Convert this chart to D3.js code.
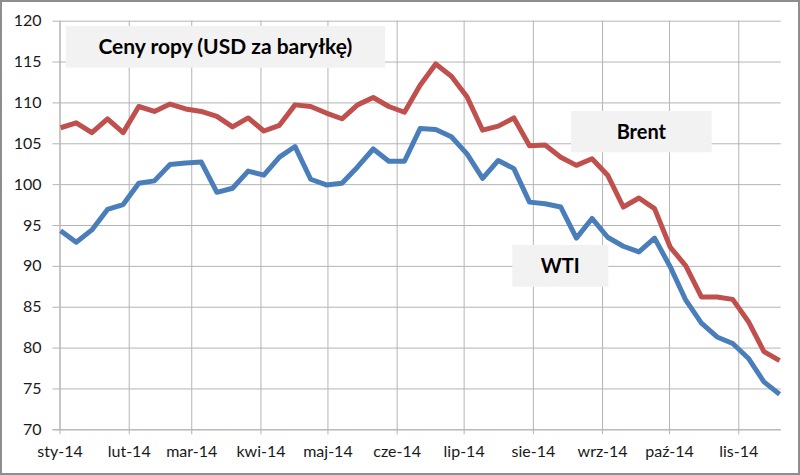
<!DOCTYPE html>
<html>
<head>
<meta charset="utf-8">
<script src="https://cdn.jsdelivr.net/npm/d3@7"></script>
<style>
    body { margin: 0; background: #fff; }
    svg { display: block; font-family: Lato, "Open Sans", sans-serif; }
</style>
</head>
<body>
<div id="chart"></div>
<script>
// weekly quotes (Wednesdays), 2014
const weekDates = [
    "2014-01-01", "2014-01-08", "2014-01-15", "2014-01-22", "2014-01-29",
    "2014-02-05", "2014-02-12", "2014-02-19", "2014-02-26",
    "2014-03-05", "2014-03-12", "2014-03-19", "2014-03-26",
    "2014-04-02", "2014-04-09", "2014-04-16", "2014-04-23", "2014-04-30",
    "2014-05-07", "2014-05-14", "2014-05-21", "2014-05-28",
    "2014-06-04", "2014-06-11", "2014-06-18", "2014-06-25",
    "2014-07-02", "2014-07-09", "2014-07-16", "2014-07-23", "2014-07-30",
    "2014-08-06", "2014-08-13", "2014-08-20", "2014-08-27",
    "2014-09-03", "2014-09-10", "2014-09-17", "2014-09-24",
    "2014-10-01", "2014-10-08", "2014-10-15", "2014-10-22", "2014-10-29",
    "2014-11-05", "2014-11-12", "2014-11-19"
]

const brent = [
    106.9, 107.5, 106.3, 108.0, 106.3, 109.5, 108.9, 109.8, 109.2, 108.9,
    108.3, 107.0, 108.1, 106.5, 107.2, 109.7, 109.5, 108.7, 108.0, 109.7,
    110.6, 109.5, 108.8, 112.1, 114.7, 113.2, 110.7, 106.6, 107.1, 108.1,
    104.7, 104.8, 103.3, 102.3, 103.1, 101.1, 97.2, 98.3, 97.0, 92.3,
    90.0, 86.2, 86.2, 85.9, 83.2, 79.5, 78.4
]

const wti = [
    94.3, 92.9, 94.4, 96.9, 97.5, 100.1, 100.4, 102.4, 102.6, 102.7,
    99.0, 99.5, 101.6, 101.1, 103.3, 104.6, 100.6, 99.9, 100.1, 102.1,
    104.3, 102.8, 102.8, 106.8, 106.7, 105.8, 103.7, 100.7, 102.9, 101.9,
    97.8, 97.6, 97.2, 93.4, 95.8, 93.5, 92.4, 91.7, 93.4, 89.9,
    85.8, 83.0, 81.3, 80.5, 78.7, 75.8, 74.3
]

const monthTicks = ["2014-01-01", "2014-02-01", "2014-03-01", "2014-04-01", "2014-05-01", "2014-06-01",
    "2014-07-01", "2014-08-01", "2014-09-01", "2014-10-01", "2014-11-01"]
const monthLabels = ["sty-14", "lut-14", "mar-14", "kwi-14", "maj-14", "cze-14",
    "lip-14", "sie-14", "wrz-14", "paź-14", "lis-14"]
const yTicks = [70, 75, 80, 85, 90, 95, 100, 105, 110, 115, 120]

const parse = d3.utcParse("%Y-%m-%d")

const mainApp = () => {
    const width = 800
    const height = 475
    const plot = { left: 59.5, right: 780.7, top: 20.7, bottom: 429.3 }
    const gridColor = '#b4b4b4'

    const svg = d3.select('#chart').append('svg')
        .attr('width', width)
        .attr('height', height)

    // outer border
    svg.append('rect')
        .attr('x', 1).attr('y', 1)
        .attr('width', width - 2).attr('height', height - 2)
        .attr('fill', '#fff')
        .attr('stroke', '#8e8e8e')
        .attr('stroke-width', 2)

    // date axis, points sit in the middle of their day
    const x = d3.scaleUtc()
        .domain([parse("2014-01-01"), parse("2014-11-20")])
        .range([plot.left, plot.right])

    const y = d3.scaleLinear()
        .domain([70, 120])
        .range([plot.bottom, plot.top])

    const xPos = d => x(d3.utcHour.offset(parse(d), 12))

    // horizontal grid
    svg.append('g')
        .attr('transform', `translate(${plot.left},0)`)
        .call(d3.axisLeft(y).tickValues(yTicks).tickSize(-(plot.right - plot.left)).tickFormat(''))
        .call(g => g.select('.domain').remove())
        .call(g => g.selectAll('line').attr('stroke', gridColor))

    // vertical grid
    svg.append('g')
        .attr('transform', `translate(0,${plot.bottom})`)
        .call(d3.axisBottom(x).tickValues(monthTicks.map(parse)).tickSize(-(plot.bottom - plot.top)).tickFormat(''))
        .call(g => g.select('.domain').remove())
        .call(g => g.selectAll('line').attr('stroke', gridColor))

    // y axis with labels
    svg.append('g')
        .attr('transform', `translate(${plot.left},0)`)
        .call(d3.axisLeft(y).tickValues(yTicks).tickSizeInner(7).tickSizeOuter(0).tickPadding(11))
        .call(g => g.select('.domain').attr('stroke', gridColor))
        .call(g => g.selectAll('line').attr('stroke', gridColor))
        .call(g => g.selectAll('text').attr('fill', '#1a1a1a').attr('font-size', '16px'))
        .attr('font-family', null)

    // x axis with month labels
    svg.append('g')
        .attr('transform', `translate(0,${plot.bottom})`)
        .call(d3.axisBottom(x).tickValues(monthTicks.map(parse))
            .tickFormat((d, i) => monthLabels[i])
            .tickSizeInner(5).tickSizeOuter(0).tickPadding(11))
        .call(g => g.select('.domain').attr('stroke', gridColor).attr('d', `M${plot.left - 7},0.5H${plot.right}`))
        .call(g => g.selectAll('line').attr('stroke', gridColor))
        .call(g => g.selectAll('text').attr('fill', '#1a1a1a').attr('font-size', '16px'))
        .attr('font-family', null)

    // label boxes
    const boxes = [
        { text: 'Ceny ropy (USD za baryłkę)', size: 21, x0: 65.7, x1: 385, y0: 26, y1: 67.7 },
        { text: 'Brent', size: 20, x0: 571, x1: 711.7, y0: 111, y1: 152.3 },
        { text: 'WTI', size: 20, x0: 512.3, x1: 608.3, y0: 245, y1: 286.7 }
    ]
    const lab = svg.append('g').selectAll('g').data(boxes).enter().append('g')
    lab.append('rect')
        .attr('x', d => d.x0).attr('y', d => d.y0)
        .attr('width', d => d.x1 - d.x0).attr('height', d => d.y1 - d.y0)
        .attr('fill', '#f2f2f2')
    lab.append('text')
        .attr('x', d => (d.x0 + d.x1) / 2)
        .attr('y', d => (d.y0 + d.y1) / 2 + 7)
        .attr('text-anchor', 'middle')
        .attr('font-weight', 'bold')
        .attr('font-size', d => d.size + 'px')
        .attr('fill', '#000')
        .text(d => d.text)

    const line = d3.line()
        .x((d, i) => xPos(weekDates[i]))
        .y(d => y(d))

    svg.append('path')
        .datum(brent)
        .attr('d', line)
        .attr('fill', 'none')
        .attr('stroke', '#c0504d')
        .attr('stroke-width', 5)
        .attr('stroke-linejoin', 'round')

    svg.append('path')
        .datum(wti)
        .attr('d', line)
        .attr('fill', 'none')
        .attr('stroke', '#4a7ebb')
        .attr('stroke-width', 5)
        .attr('stroke-linejoin', 'round')
}

mainApp();
</script>
</body>
</html>
